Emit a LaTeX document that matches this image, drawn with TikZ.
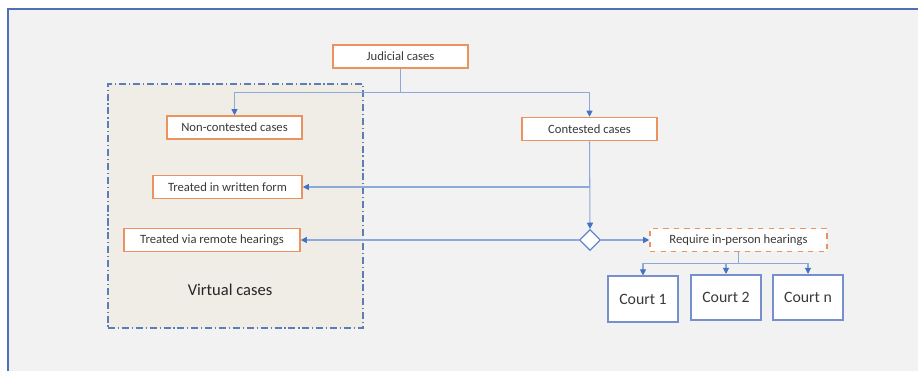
\documentclass[tikz,border=0pt]{standalone}
\usepackage{fontspec}
\setmainfont{Carlito}
\usetikzlibrary{shapes.geometric,arrows.meta,positioning,calc}
\definecolor{PageGray}{HTML}{F2F2F2}
\definecolor{FrameBlue}{HTML}{4F6FB8}
\definecolor{CaseOrange}{HTML}{EA9360}
\definecolor{LinkBlue}{HTML}{8DA8DA}
\definecolor{TipBlue}{HTML}{4472C4}
\definecolor{CourtBlue}{HTML}{7590CC}
\definecolor{VirtualFill}{HTML}{F0EDE7}
\definecolor{VirtualEdge}{HTML}{5E7DB5}
\definecolor{TextGray}{HTML}{3A3A3A}

\begin{document}
\begin{tikzpicture}[
    x=0.02cm, y=-0.02cm,
    font=\fontsize{7.2}{8.5}\selectfont,
    casebox/.style={draw=CaseOrange, fill=white, line width=0.9pt, text=TextGray, minimum height=0.46cm, inner sep=1pt},
    courtbox/.style={draw=CourtBlue, fill=white, line width=0.9pt, text=TextGray, font=\fontsize{9}{10}\selectfont, minimum width=1.4cm, minimum height=0.91cm},
    link/.style={draw=LinkBlue, line width=0.6pt},
    arrow/.style={link, -{Triangle[length=3.5pt, width=3.5pt, color=TipBlue]}}
]
  \useasboundingbox (0,0) rectangle (918,371);

  % =========================================================================
  % FUNDO
  % =========================================================================
  \fill[white] (0,0) rectangle (918,371);
  \fill[PageGray] (8,9) rectangle (918,371);
  \draw[FrameBlue, line width=0.9pt] (8,371) -- (8,9) -- (918,9);

  % =========================================================================
  % CASOS VIRTUAIS
  % =========================================================================
  \node[draw=VirtualEdge, fill=VirtualFill, line width=0.7pt, dash pattern=on 4pt off 1.6pt on 0.7pt off 1.6pt, minimum width=5.1cm, minimum height=4.88cm] (p_virtual) at (235.5, 206) {};
  \node[font=\fontsize{9.4}{11}\selectfont, text=black!85] (t_virtual) at (230, 290) {Virtual cases};

  \node[casebox, minimum width=2.7cm] (n_noncont) at (234.5, 127.5) {Non-contested cases};
  \node[casebox, minimum width=2.98cm] (n_written) at (227.5, 187) {Treated in written form};
  \node[casebox, minimum width=3.52cm] (n_remote) at (212, 240) {Treated via remote hearings};

  % =========================================================================
  % CASOS JUDICIAIS
  % =========================================================================
  \node[casebox, minimum width=2.7cm] (n_judicial) at (400.5, 56.5) {Judicial cases};
  \node[casebox, minimum width=2.7cm] (n_contested) at (589.5, 129) {Contested cases};

  \node[diamond, draw=TipBlue!85, fill=white, line width=0.7pt, minimum width=0.42cm, minimum height=0.42cm, inner sep=0pt] (n_decide) at (590, 240) {};

  \node[casebox, dashed, minimum width=3.54cm] (n_inperson) at (738.5, 240) {Require in-person hearings};

  % Tribunais
  \node[courtbox] (n_court1) at (643, 299) {Court 1};
  \node[courtbox] (n_court2) at (726, 297.5) {Court 2};
  \node[courtbox] (n_courtn) at (808, 297.5) {Court n};

  % =========================================================================
  % LIGAÇÕES
  % =========================================================================
  \coordinate (c_jsplit) at ($(n_judicial.south)+(0,24)$);
  \draw[link] (n_judicial.south) -- (c_jsplit);
  \draw[arrow] (c_jsplit) -| (n_noncont.north);
  \draw[arrow] (c_jsplit) -| (n_contested.north);

  \coordinate (c_wsplit) at (n_contested.south |- n_written.east);
  \draw[arrow] (n_contested.south) -- (n_decide.north);
  \draw[arrow] (c_wsplit) -- (n_written.east);

  \draw[arrow] (n_decide.west) -- (n_remote.east);
  \draw[arrow] (n_decide.east) -- (n_inperson.west);

  \coordinate (c_csplit) at ($(n_inperson.south)+(0,11)$);
  \draw[link] (n_inperson.south) -- (c_csplit);
  \draw[arrow] (c_csplit) -| (n_court1.north);
  \draw[arrow] (c_csplit) -| (n_court2.north);
  \draw[arrow] (c_csplit) -| (n_courtn.north);

\end{tikzpicture}
\end{document}
